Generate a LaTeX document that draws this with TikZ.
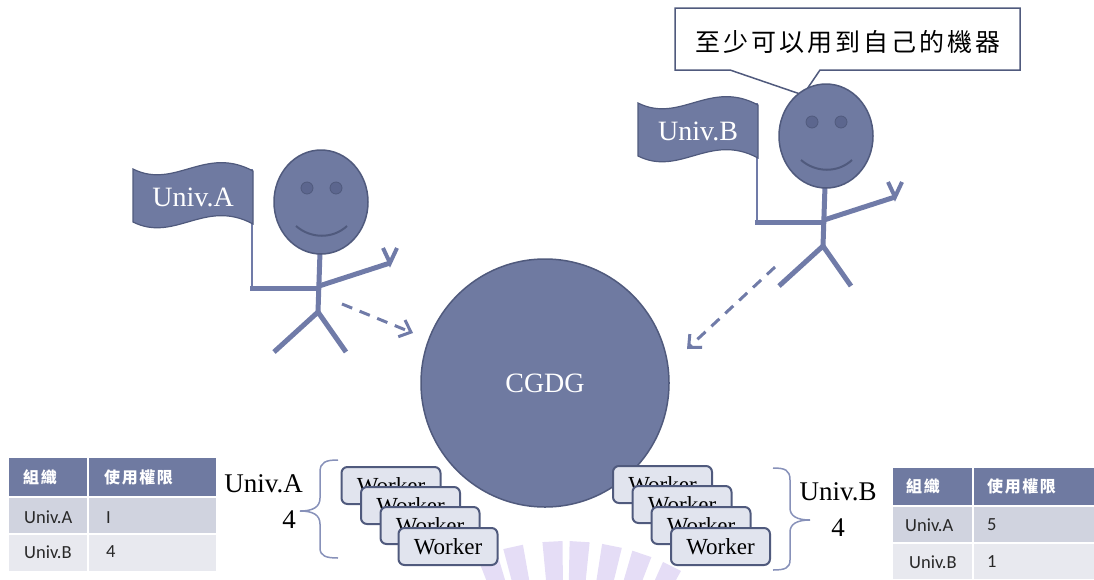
\documentclass[tikz,border=0pt]{standalone}
\usepackage{fontspec}
\setmainfont{Liberation Serif}
\newfontfamily\tabfont{Carlito}
\newfontfamily\cjkfont[LetterSpace=12]{Noto Sans CJK TC}
\newfontfamily\cjkhead[LetterSpace=10]{Noto Sans CJK TC}
\usetikzlibrary{arrows.meta}

\definecolor{bodyfill}{RGB}{111,122,161}
\definecolor{edgec}{RGB}{80,90,125}
\definecolor{limb}{RGB}{112,123,168}
\definecolor{eyec}{RGB}{92,102,142}
\definecolor{rowa}{RGB}{208,211,223}
\definecolor{rowb}{RGB}{232,233,239}
\definecolor{workfill}{RGB}{225,228,238}
\definecolor{bracec}{RGB}{135,145,185}
\definecolor{wmark}{RGB}{229,221,246}
\definecolor{tabtext}{RGB}{40,40,40}

\tikzset{
  hub/.style={circle, fill=bodyfill, draw=edgec, line width=1.5pt, text=white,
    font=\fontsize{28}{30}\selectfont, inner sep=0pt, minimum size=248pt},
  limbline/.style={draw=limb, line width=5pt},
  poleline/.style={draw=limb, line width=2.5pt},
  flagshape/.style={fill=bodyfill, draw=edgec, line width=1.2pt},
  flagtext/.style={text=white, font=\fontsize{28}{30}\selectfont, inner sep=0pt},
  headshape/.style={fill=bodyfill, draw=edgec, line width=1.5pt},
  eyeshape/.style={fill=eyec, draw=edgec, line width=0.8pt},
  dasharrow/.style={draw=limb, line width=3pt, dash pattern=on 11pt off 8pt,
    -{Straight Barb[length=10pt,width=18pt]}},
  worker/.style={draw=edgec, line width=2pt, fill=workfill, rounded corners=6pt,
    minimum width=99pt, minimum height=37pt, inner sep=0pt,
    font=\fontsize{23}{25}\selectfont},
  hdrtext/.style={text=white, anchor=west, inner sep=0pt,
    font=\cjkhead\bfseries\fontsize{16}{18}\selectfont},
  celltext/.style={text=tabtext, anchor=west, inner sep=0pt,
    font=\tabfont\fontsize{18.5}{20}\selectfont},
  lbl/.style={inner sep=0pt, font=\fontsize{27}{29}\selectfont},
  bracepath/.style={draw=bracec, line width=1.5pt},
  pics/stickman/.style={code={
    % flag pole behind the flag
    \draw[poleline] (-69,86) -- (-69,-33);
    \draw[flagshape] (-188,-33) .. controls (-146,-12) and (-116,-57) .. (-68,-31)
      -- (-68,22) .. controls (-116,-4) and (-146,41) .. (-188,20) -- cycle;
    \node[flagtext] (-flag) at (-128,-5) {#1};
    % limbs
    \draw[limbline] (-1,50) -- (-3,110);
    \draw[limbline] (-47,150) -- (-3,110) -- (25,150);
    \draw[limbline] (-71,86) -- (-2,86);
    \draw[limbline, line join=round] (-2,84) -- (69,61);
    \draw[limbline, line width=4pt] (62,46) -- (69,61) -- (76,46);
    % head
    \draw[headshape] (0,0) ellipse [x radius=47, y radius=52];
    \draw[eyeshape] (-14,-14) circle [radius=6];
    \draw[eyeshape] (15,-14) circle [radius=6];
    \draw[draw=edgec, line width=2pt] (-25,24) .. controls (-10,37) and (12,37) .. (26,24);
  }}
}

\begin{document}
\begin{tikzpicture}[x=1pt, y=-1pt]
\useasboundingbox (0,0) rectangle (1094,579);

% faint fan-shaped logo strokes along the bottom edge
\foreach \a in {-19,-12.5,-3,3.5,11.3,18.7,26.5}{
  \fill[wmark] ({565+240*sin(\a-2.4)},{781-240*cos(\a-2.4)})
    -- ({565+240*sin(\a+2.4)},{781-240*cos(\a+2.4)})
    -- ({565+190*sin(\a+2.4)},{781-190*cos(\a+2.4)})
    -- ({565+190*sin(\a-2.4)},{781-190*cos(\a-2.4)}) -- cycle;
}

% central grid
\node[hub] (cgdg) at (545,383) {CGDG};

% speech bubble
\draw[fill=white, draw=edgec, line width=1.5pt, line join=miter]
  (675,8) -- (1020,8) -- (1020,70) -- (820,70) -- (803,95) -- (730,70) -- (675,70) -- cycle;
\node[inner sep=0pt, font=\cjkfont\fontsize{25}{27}\selectfont] (say) at (848,42) {至少可以用到自己的機器};

% the two universities
\pic (ua) at (321,202) {stickman={Univ.A}};
\pic (ub) at (826,136) {stickman={Univ.B}};

% dashed arrows towards the grid
\coordinate (aS) at (342,304);
\coordinate (aE) at (413,333);
\coordinate (bS) at (775,267);
\coordinate (bE) at (687,349);
\draw[dasharrow] (aS) -- (aE);
\draw[dasharrow] (bS) -- (bE);

% workers of Univ.A
\node[worker] (wa1) at (391,485.5) {Worker};
\node[worker] (wa2) at (410.5,505.5) {Worker};
\node[worker] (wa3) at (430,525.5) {Worker};
\node[worker] (wa4) at (448,546.5) {Worker};

% workers of Univ.B
\node[worker] (wb1) at (662.5,484.5) {Worker};
\node[worker] (wb2) at (682,504.5) {Worker};
\node[worker] (wb3) at (701,525.5) {Worker};
\node[worker] (wb4) at (720.5,546.5) {Worker};

% braces and counts
\draw[bracepath] (338,460) .. controls (326,460) and (320,462) .. (320,472)
  -- (320,498) .. controls (320,507) and (313,511) .. (300,511)
  .. controls (313,511) and (320,515) .. (320,524)
  -- (320,548) .. controls (320,556) and (326,558) .. (338,558);
\node[lbl, anchor=base east] (labA) at (303,492) {Univ.A};
\node[lbl, anchor=east] (numA) at (296,520) {4};

\draw[bracepath] (773,468) .. controls (785,468) and (790,470) .. (790,480)
  -- (790,508) .. controls (790,516) and (797,520) .. (810,520)
  .. controls (797,520) and (790,524) .. (790,532)
  -- (790,560) .. controls (790,568) and (785,570) .. (773,570);
\node[lbl, anchor=base] (labB) at (838,500) {Univ.B};
\node[lbl] (numB) at (838,528) {4};

% permission table, left
\fill[bodyfill] (9,458) rectangle (216,496);
\fill[rowa] (9,498) rectangle (216,533);
\fill[rowb] (9,535) rectangle (216,571);
\draw[white, line width=2pt] (88,458) -- (88,571);
\node[hdrtext] (lh1) at (23,477) {組織};
\node[hdrtext] (lh2) at (104,477) {使用權限};
\node[celltext] (lr1a) at (24,517.5) {Univ.A};
\node[celltext] (lr1b) at (106,517.5) {I};
\node[celltext] (lr2a) at (24,552) {Univ.B};
\node[celltext] (lr2b) at (106,552) {4};

% permission table, right
\fill[bodyfill] (893,468) rectangle (1094,505);
\fill[rowa] (893,507) rectangle (1094,542);
\fill[rowb] (893,544) rectangle (1094,579);
\draw[white, line width=2pt] (973,468) -- (973,579);
\node[hdrtext] (rh1) at (906,486.5) {組織};
\node[hdrtext] (rh2) at (987,486.5) {使用權限};
\node[celltext] (rr1a) at (905,525) {Univ.A};
\node[celltext] (rr1b) at (987,525) {5};
\node[celltext] (rr2a) at (909,562) {Univ.B};
\node[celltext] (rr2b) at (987,562) {1};
\end{tikzpicture}
\end{document}
